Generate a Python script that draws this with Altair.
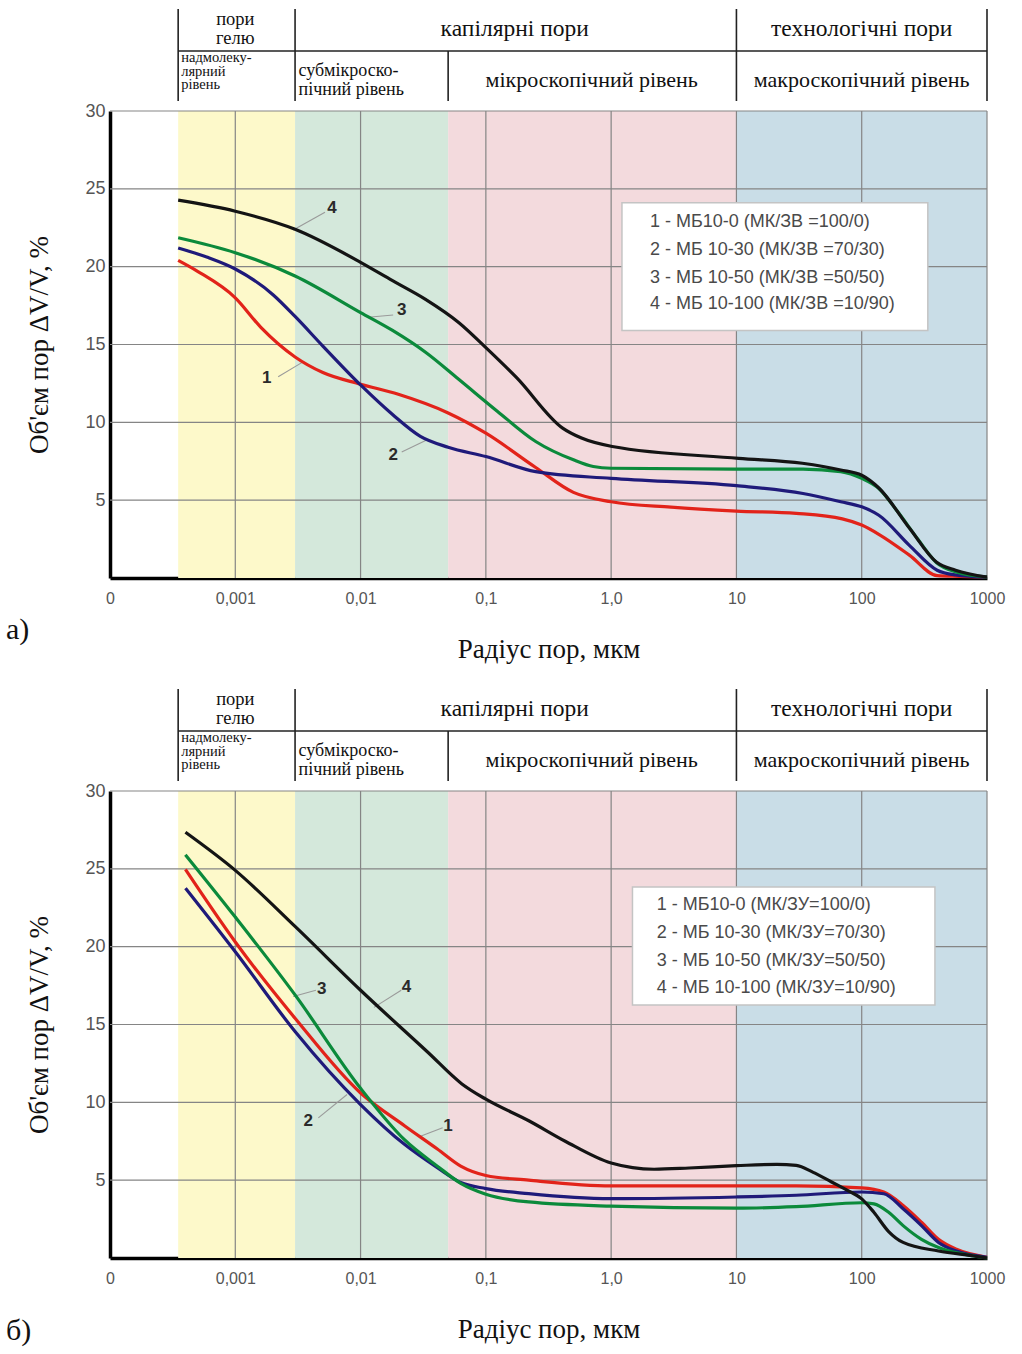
import json
import altair as alt
import pandas as pd

# ---------------- axes / bands ----------------
X_TICKS = [0.0001, 0.001, 0.01, 0.1, 1, 10, 100, 1000]
X_TICK_LABELS = ["0", "0,001", "0,01", "0,1", "1,0", "10", "100", "1000"]
Y_TICKS = [5, 10, 15, 20, 25, 30]
X_MIN, X_MAX = 0.0001, 1000
Y_MIN, Y_MAX = 0, 30

BAND_START = [0.00035, 0.003, 0.05, 10]
BAND_END = [0.003, 0.05, 10, 1000]
BAND_COLORS = ["#FDF9CA", "#D4E8DB", "#F3DADD", "#C9DDE7"]

SERIES = ["1", "2", "3", "4"]
SERIES_COLORS = ["#E2231A", "#1F1A7A", "#0B8A3B", "#141414"]

# ---------------- header table ----------------
HEADER_V_X = [0.00035, 0.003, 0.05, 10, 1000]
HEADER_V_TOP = [0, 0, 42, 0, 0]
HEADER_V_BOTTOM = [92, 92, 92, 92, 92]
HEADER_DIV_Y = 42
GEL_TEXT = ["пори", "гелю"]
GEL_X = [0.001, 0.001]
GEL_Y = [10, 29]
TOP_ROW_TEXT = ["капілярні пори", "технологічні пори"]
TOP_ROW_X = [0.17, 100]
TOP_ROW_Y = [19.5, 20]
LOW_LEFT_TEXT = ["надмолеку-", "лярний", "рівень"]
LOW_LEFT_X = [0.00037, 0.00037, 0.00037]
LOW_LEFT_Y = [49, 62.5, 76]
SUB_TEXT = ["субмікроско-", "пічний рівень"]
SUB_X = [0.0032, 0.0032]
SUB_Y = [62, 81]
LOW_CENTER_TEXT = ["мікроскопічний рівень", "макроскопічний рівень"]
LOW_CENTER_X = [0.7, 100]
LOW_CENTER_Y = [71, 71]

# ---------------- panel a data ----------------
A1_X = [0.00035, 0.0005, 0.001, 0.0016, 0.003, 0.005, 0.01, 0.02, 0.05, 0.1, 0.25, 0.5, 1, 3, 10, 30, 70, 100, 140, 240, 400, 600, 1000]
A1_Y = [20.4, 19.7, 18.0, 16.1, 14.2, 13.2, 12.45, 11.8, 10.6, 9.3, 7.1, 5.5, 4.9, 4.55, 4.3, 4.15, 3.8, 3.4, 2.76, 1.47, 0.15, 0.1, 0.05]
A2_X = [0.00035, 0.0006, 0.001, 0.002, 0.003, 0.005, 0.01, 0.018, 0.03, 0.05, 0.1, 0.25, 1, 10, 34, 68, 100, 137, 240, 400, 560, 1000]
A2_Y = [21.2, 20.6, 19.85, 18.2, 16.8, 14.9, 12.4, 10.5, 9.1, 8.4, 7.8, 6.83, 6.4, 5.93, 5.43, 4.9, 4.57, 4.03, 2.1, 0.5, 0.2, 0.05]
A3_X = [0.00035, 0.001, 0.003, 0.01, 0.018, 0.033, 0.06, 0.124, 0.25, 0.5, 0.72, 1, 10, 34, 68, 100, 137, 194, 280, 394, 560, 1000]
A3_Y = [21.86, 20.9, 19.4, 17.05, 15.9, 14.5, 12.8, 10.7, 8.77, 7.59, 7.16, 7.05, 7.0, 7.0, 6.83, 6.4, 5.75, 4.25, 2.5, 1.0, 0.4, 0.06]
A4_X = [0.00035, 0.001, 0.003, 0.01, 0.018, 0.033, 0.061, 0.1, 0.176, 0.41, 0.58, 1.02, 10.4, 33.6, 68, 100, 137, 241, 394, 561, 1000]
A4_Y = [24.27, 23.56, 22.4, 20.28, 19.1, 17.9, 16.4, 14.8, 12.87, 9.63, 8.99, 8.45, 7.69, 7.37, 6.94, 6.6, 5.78, 3.19, 1.03, 0.5, 0.06]

A_LABEL_TEXT = ["1", "2", "3", "4"]
A_LABEL_X = [0.00178, 0.0182, 0.0213, 0.0059]
A_LABEL_Y = [12.83, 7.9, 17.2, 23.74]
A_LEAD_X0 = [0.0022, 0.0213, 0.0182, 0.0052]
A_LEAD_Y0 = [12.93, 8.1, 16.9, 23.5]
A_LEAD_X1 = [0.0035, 0.0337, 0.0115, 0.0029]
A_LEAD_Y1 = [13.9, 8.86, 16.75, 22.35]

A_LEGEND = ["1 - МБ10-0 (МК/ЗВ =100/0)", "2 - МБ 10-30 (МК/ЗВ =70/30)",
            "3 - МБ 10-50 (МК/ЗВ =50/50)", "4 - МБ 10-100 (МК/ЗВ =10/90)"]
A_LEGEND_X = [2.04, 2.04, 2.04, 2.04]
A_LEGEND_Y = [22.9, 21.07, 19.3, 17.6]
A_BOX = dict(x0=1.22, x1=337, y0=15.9, y1=24.1)

# ---------------- panel b data ----------------
B1_X = [0.0004, 0.001, 0.003, 0.01, 0.0224, 0.041, 0.063, 0.1, 0.22, 1, 10, 30, 100, 150, 214, 300, 410, 570, 1000]
B1_Y = [24.96, 20.3, 15.4, 10.6, 8.5, 7.0, 5.9, 5.3, 5.0, 4.63, 4.63, 4.63, 4.5, 4.24, 3.38, 2.3, 1.2, 0.56, 0.05]
B2_X = [0.0004, 0.001, 0.003, 0.01, 0.0224, 0.041, 0.063, 0.1, 0.22, 1, 10, 30, 100, 150, 214, 300, 410, 570, 1000]
B2_Y = [23.76, 19.67, 14.55, 9.86, 7.3, 5.8, 4.85, 4.46, 4.13, 3.81, 3.92, 4.03, 4.24, 4.13, 3.16, 2.08, 1.0, 0.45, 0.05]
B3_X = [0.0004, 0.001, 0.003, 0.01, 0.0224, 0.041, 0.063, 0.1, 0.22, 1, 10, 30, 100, 125, 164, 214, 300, 410, 785, 1000]
B3_Y = [25.9, 21.9, 16.9, 10.9, 7.6, 5.9, 4.8, 4.1, 3.6, 3.33, 3.2, 3.3, 3.55, 3.48, 2.94, 2.08, 1.2, 0.67, 0.13, 0.0]
B4_X = [0.0004, 0.001, 0.003, 0.01, 0.0346, 0.064, 0.1, 0.222, 0.43, 1, 2.2, 4.2, 10, 21, 30, 41, 57, 79, 100, 125, 164, 214, 410, 785, 1000]
B4_Y = [27.35, 24.9, 21.3, 17.2, 13.2, 11.2, 10.2, 8.8, 7.5, 6.1, 5.7, 5.78, 5.93, 6.02, 5.95, 5.5, 4.9, 4.3, 3.8, 2.94, 1.7, 1.0, 0.45, 0.13, 0.0]

B_LABEL_TEXT = ["1", "2", "3", "4"]
B_LABEL_X = [0.0499, 0.00383, 0.0049, 0.0232]
B_LABEL_Y = [8.5, 8.8, 17.3, 17.4]
B_LEAD_X0 = [0.0452, 0.0046, 0.0044, 0.0211]
B_LEAD_Y0 = [8.37, 9.0, 17.2, 17.2]
B_LEAD_X1 = [0.0297, 0.0078, 0.0029, 0.0128]
B_LEAD_Y1 = [7.8, 10.5, 16.8, 16.1]

B_LEGEND = ["1 - МБ10-0 (МК/ЗУ=100/0)", "2 - МБ 10-30 (МК/ЗУ=70/30)",
            "3 - МБ 10-50 (МК/ЗУ=50/50)", "4 - МБ 10-100 (МК/ЗУ=10/90)"]
B_LEGEND_X = [2.31, 2.31, 2.31, 2.31]
B_LEGEND_Y = [22.67, 20.85, 19.07, 17.36]
B_BOX = dict(x0=1.48, x1=384, y0=16.25, y1=23.83)

# ---------------- layout constants ----------------
W, H, HH = 877, 467, 92
SERIF = "Liberation Serif"
SANS = "Liberation Sans"

XS = alt.Scale(type="log", domain=[X_MIN, X_MAX], nice=False)
YS = alt.Scale(domain=[Y_MIN, Y_MAX], nice=False, zero=False)

label_expr = f"{json.dumps(X_TICK_LABELS)}[indexof({json.dumps(X_TICKS)}, datum.value)]"

XAX = alt.Axis(values=X_TICKS, labelExpr=label_expr, grid=False, ticks=False,
               domainColor="#000", domainWidth=3.5, labelFont=SANS, labelFontSize=16,
               labelColor="#555", labelPadding=12, labelFlush=False, labelOverlap=False,
               title="Радіус пор, мкм", titleFont=SERIF, titleFontSize=27,
               titleFontWeight="normal", titleColor="#111", titlePadding=30)
YAX = alt.Axis(values=Y_TICKS, grid=False, ticks=False, domainColor="#000", domainWidth=3.5,
               labelFont=SANS, labelFontSize=18, labelColor="#555", labelPadding=5,
               title="Об'єм пор ΔV/V, %", titleFont=SERIF, titleFontSize=27,
               titleFontWeight="normal", titleColor="#111", titlePadding=31)


def X(field):
    return alt.X(field, type="quantitative", scale=XS, axis=XAX)


def Y(field):
    return alt.Y(field, type="quantitative", scale=YS, axis=YAX)


def XD(v):
    return alt.XDatum(v, type="quantitative", scale=XS, axis=XAX)


def YD(v):
    return alt.YDatum(v, type="quantitative", scale=YS, axis=YAX)


def header(extra):
    hx = alt.Scale(type="log", domain=[X_MIN, X_MAX], nice=False)
    hy = alt.Scale(domain=[-extra, HH], reverse=True, nice=False, zero=False)
    vdf = pd.DataFrame({"x": HEADER_V_X, "y0": HEADER_V_TOP, "y1": HEADER_V_BOTTOM})
    vlines = alt.Chart(vdf).mark_rule(color="#222", strokeWidth=1.6).encode(
        x=alt.X("x:Q", scale=hx, axis=None), y=alt.Y("y0:Q", scale=hy, axis=None), y2="y1:Q")
    ddf = pd.DataFrame({"x0": [HEADER_V_X[0]], "x1": [HEADER_V_X[-1]], "y": [HEADER_DIV_Y]})
    div = alt.Chart(ddf).mark_rule(color="#222", strokeWidth=1.6).encode(
        x=alt.X("x0:Q", scale=hx, axis=None), x2="x1:Q", y=alt.Y("y:Q", scale=hy, axis=None))

    def texts(t, xs, ys, size, align):
        df = pd.DataFrame({"t": t, "x": xs, "y": ys})
        return alt.Chart(df).mark_text(font=SERIF, fontSize=size, align=align, baseline="middle",
                                       color="#111").encode(
            x=alt.X("x:Q", scale=hx, axis=None), y=alt.Y("y:Q", scale=hy, axis=None), text="t:N")

    return alt.layer(
        vlines, div,
        texts(GEL_TEXT, GEL_X, GEL_Y, 18.5, "center"),
        texts(TOP_ROW_TEXT, TOP_ROW_X, TOP_ROW_Y, 23.5, "center"),
        texts(LOW_LEFT_TEXT, LOW_LEFT_X, LOW_LEFT_Y, 14.5, "left"),
        texts(SUB_TEXT, SUB_X, SUB_Y, 18, "left"),
        texts(LOW_CENTER_TEXT, LOW_CENTER_X, LOW_CENTER_Y, 22, "center"),
    ).properties(width=W, height=HH + extra)


def plot(curves, lab_t, lab_x, lab_y, lx0, ly0, lx1, ly1, leg_t, leg_x, leg_y, box, tag, tag_dy):
    bands = alt.Chart(pd.DataFrame({"x0": BAND_START, "x1": BAND_END, "c": BAND_COLORS})).mark_rect().encode(
        x=X("x0"), x2="x1:Q", y=YD(Y_MIN), y2=alt.Y2Datum(Y_MAX),
        color=alt.Color("c:N", scale=None))
    gv = alt.Chart(pd.DataFrame({"x": X_TICKS[1:]})).mark_rule(color="#858585", strokeWidth=1.2).encode(
        x=X("x"), y=YD(Y_MIN), y2=alt.Y2Datum(Y_MAX))
    gh = alt.Chart(pd.DataFrame({"y": Y_TICKS})).mark_rule(color="#858585", strokeWidth=1.2).encode(
        y=Y("y"), x=XD(X_MIN), x2=alt.X2Datum(X_MAX))
    rows = []
    for s, (xs, ys) in zip(SERIES, curves):
        for a, b in zip(xs, ys):
            rows.append({"s": s, "x": a, "y": b})
    cdf = pd.DataFrame(rows)
    lines = alt.Chart(cdf).mark_line(interpolate="monotone", strokeWidth=3.2).encode(
        x=X("x"), y=Y("y"),
        color=alt.Color("s:N", scale=alt.Scale(domain=SERIES, range=SERIES_COLORS), legend=None),
        detail="s:N")
    lead = alt.Chart(pd.DataFrame({"x0": lx0, "y0": ly0, "x1": lx1, "y1": ly1})).mark_rule(
        color="#9a9a9a", strokeWidth=1.1).encode(x=X("x0"), x2="x1:Q", y=Y("y0"), y2="y1:Q")
    labs = alt.Chart(pd.DataFrame({"t": lab_t, "x": lab_x, "y": lab_y})).mark_text(
        font=SANS, fontSize=17, fontWeight="bold", color="#2a2a2a").encode(
        x=X("x"), y=Y("y"), text="t:N")
    bx = alt.Chart(pd.DataFrame([box])).mark_rect(fill="white", stroke="#c4c4c4", strokeWidth=1.5).encode(
        x=X("x0"), x2="x1:Q", y=Y("y0"), y2="y1:Q")
    leg = alt.Chart(pd.DataFrame({"t": leg_t, "x": leg_x, "y": leg_y})).mark_text(
        font=SANS, fontSize=18, align="left", baseline="middle", color="#4a4a4a").encode(
        x=X("x"), y=Y("y"), text="t:N")
    return alt.layer(bands, gv, gh, lead, lines, bx, leg, labs).properties(
        width=W, height=H,
        title=alt.TitleParams(tag, orient="bottom", anchor="start", frame="bounds",
                              font=SERIF, fontSize=30, fontWeight="normal", color="#111",
                              dy=tag_dy, dx=-20, offset=0))


plot_a = plot([(A1_X, A1_Y), (A2_X, A2_Y), (A3_X, A3_Y), (A4_X, A4_Y)],
              A_LABEL_TEXT, A_LABEL_X, A_LABEL_Y, A_LEAD_X0, A_LEAD_Y0, A_LEAD_X1, A_LEAD_Y1,
              A_LEGEND, A_LEGEND_X, A_LEGEND_Y, A_BOX, "а)", -47)
plot_b = plot([(B1_X, B1_Y), (B2_X, B2_Y), (B3_X, B3_Y), (B4_X, B4_Y)],
              B_LABEL_TEXT, B_LABEL_X, B_LABEL_Y, B_LEAD_X0, B_LEAD_Y0, B_LEAD_X1, B_LEAD_Y1,
              B_LEGEND, B_LEGEND_X, B_LEGEND_Y, B_BOX, "б)", -26)

chart = alt.vconcat(header(0), plot_a, header(27), plot_b, spacing=0).resolve_scale(
    x="independent", y="independent").properties(
    padding={"left": 5, "top": 8, "right": 5, "bottom": 2}, background="white"
).configure_view(stroke=None)

chart.save("out.html", embed_options={"renderer": "svg", "actions": False})
